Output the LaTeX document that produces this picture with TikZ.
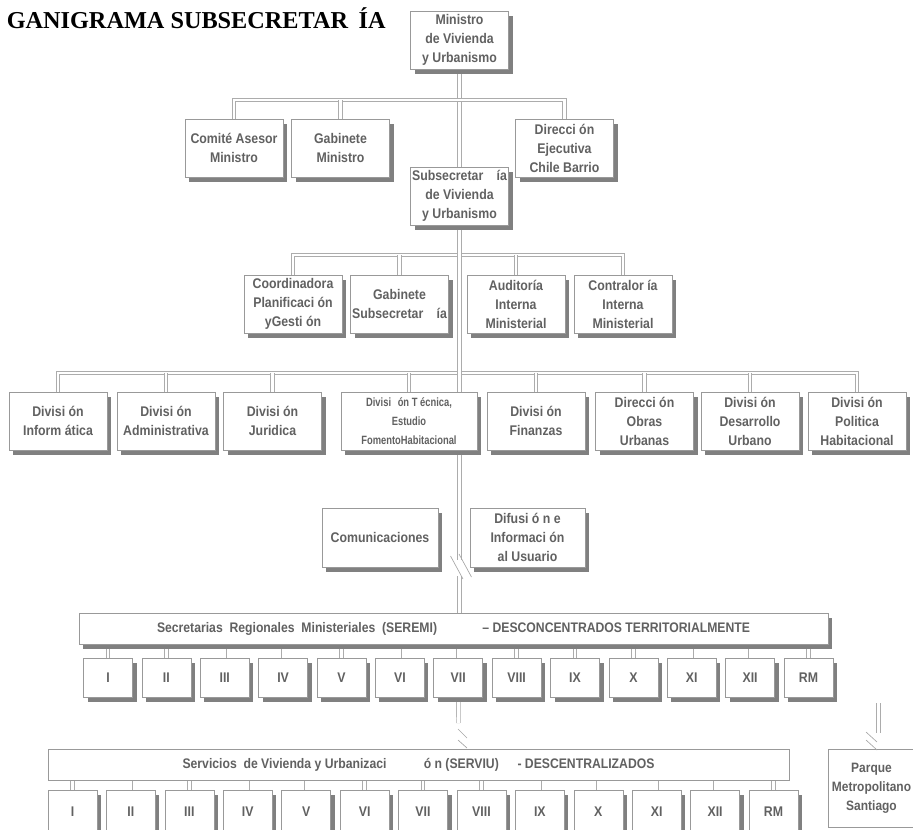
\documentclass[tikz,border=0pt]{standalone}
\usepackage{fontspec}
\setmainfont{Liberation Sans}[FakeStretch=0.88]
\newfontfamily\titlefont{Liberation Serif}
\newfontfamily\narrowfont{Liberation Sans}[FakeStretch=0.78]
\usetikzlibrary{shadows,backgrounds}

\newcommand{\boxfont}{\bfseries\fontsize{10.5}{14.25}\selectfont}
\newcommand{\smallboxfont}{\narrowfont\bfseries\fontsize{9}{14.25}\selectfont}

\tikzset{
	orgbox/.style={draw=gray!80, fill=white, text=black!62, font=\boxfont, align=center,
		inner sep=1pt, minimum width=73.5pt, minimum height=43.5pt},
	shade/.style={drop shadow={shadow xshift=3pt, shadow yshift=-3.5pt, fill=black!50, opacity=1}},
	regbox/.style={orgbox, minimum width=36.75pt, minimum height=29.25pt},
	bar/.style={orgbox, font=\bfseries\fontsize{10.4}{12}\selectfont, minimum height=23.25pt},
	link/.style={draw=gray!65, double=white, double distance=2.2pt, line width=0.55pt},
	slash/.style={draw=gray!70, line width=0.5pt},
}

\begin{document}
\begin{tikzpicture}[x=0.75pt,y=-0.75pt]

	\useasboundingbox (0,0) rectangle (913,829);

	% Title.
	\node[anchor=base east, inner sep=0pt, font=\titlefont\bfseries\fontsize{18.2}{20}\selectfont] (title) at (386,28) {GANIGRAMA SUBSECRETAR\hspace{8pt}ÍA};

	% Node definitions.
	\node[orgbox,shade] (mvu) at (459.5,40) {Ministro\\de Vivienda\\y Urbanismo};
	\node[orgbox,shade] (casesor) at (234,148) {Comité Asesor\\Ministro};
	\node[orgbox,shade] (gabmin) at (340.5,148) {Gabinete\\Ministro};
	\node[orgbox,shade] (dechile) at (564.5,148.5) {Direcci ón\\Ejecutiva\\Chile Barrio};
	\node[orgbox,shade] (subse) at (459.5,196) {Subsecretar\hspace{10pt}ía\\de Vivienda\\y Urbanismo};

	\node[orgbox,shade] (coord) at (293,304) {Coordinadora\\Planificaci ón\\yGesti ón};
	\node[orgbox,shade] (gabsub) at (399.5,304) {Gabinete\\Subsecretar\hspace{10pt}ía};
	\node[orgbox,shade] (audit) at (516,304) {Auditoría\\Interna\\Ministerial};
	\node[orgbox,shade] (contra) at (623,304) {Contralor ía\\Interna\\Ministerial};

	\node[orgbox,shade] (dinf) at (58,421) {Divisi ón\\Inform ática};
	\node[orgbox,shade] (dadm) at (166,421) {Divisi ón\\Administrativa};
	\node[orgbox,shade] (djur) at (272.5,421) {Divisi ón\\Juridica};
	\node[orgbox,shade,minimum width=102pt,font=\smallboxfont] (dtec) at (409,421) {Divisi\hspace{5pt}ón T écnica,\\Estudio\\FomentoHabitacional};
	\node[orgbox,shade] (dfin) at (536,421) {Divisi ón\\Finanzas};
	\node[orgbox,shade] (dobras) at (644.5,421) {Direcci ón\\Obras\\Urbanas};
	\node[orgbox,shade] (ddes) at (750,421) {Divisi ón\\Desarrollo\\Urbano};
	\node[orgbox,shade] (dpol) at (857,421) {Divisi ón\\Politica\\Habitacional};

	\node[orgbox,shade,minimum width=87pt,minimum height=44.25pt] (comun) at (380,537.5) {Comunicaciones};
	\node[orgbox,shade,minimum width=86.25pt,minimum height=44.25pt] (difus) at (527.5,537.5) {Difusi ó n e\\Informaci ón\\al Usuario};

	\node[bar,shade,minimum width=561.75pt] (seremi) at (453.5,628.5)
		{Secretarias\ \ Regionales\ \ Ministeriales\ \ (SEREMI)\hspace{34pt}-- DESCONCENTRADOS TERRITORIALMENTE};
	\node[bar,minimum width=555.75pt] (serviu) at (418.5,764.5)
		{Servicios\ \ de Vivienda y Urbanizaci\hspace{28pt}ó n (SERVIU)\hspace{14pt}- DESCENTRALIZADOS};

	\foreach \r [count=\i] in {I,II,III,IV,V,VI,VII,VIII,IX,X,XI,XII,RM} {
		\node[regbox,shade] (s\i) at ({108+(\i-1)*58.375},677.5) {\r};
		\node[regbox,shade,minimum height=33pt] (v\i) at ({72.5+(\i-1)*58.42},812) {\r};
	}

	\node[orgbox,minimum width=65pt,minimum height=58.5pt,font=\bfseries\fontsize{10.2}{14.25}\selectfont] (parque) at (871.5,788) {Parque\\Metropolitano\\Santiago};
	\draw[gray!80] (parque.north east) -- ++(12,0) (parque.south east) -- ++(12,0);

	% Break points.
	\coordinate (bus1) at (459.5,100);
	\coordinate (bus2) at (459.5,255);
	\coordinate (bus3) at (459.5,373);
	\coordinate (cut1a) at (459.5,560);
	\coordinate (cut1b) at (459.5,576);
	\coordinate (cut2a) at (458.5,723);
	\coordinate (cut3a) at (878.5,703);
	\coordinate (cut3b) at (878.5,733);

	% Connectors.
	\begin{pgfonlayer}{background}
		\draw[link] (mvu) -- (subse);
		\draw[link] (casesor.north) |- (bus1) -| (dechile.north);
		\draw[link] (gabmin.north) -- (gabmin.north |- bus1);

		\draw[link] (coord.north) |- (bus2) -| (contra.north);
		\foreach \n in {gabsub,audit}
			\draw[link] (\n.north) -- (\n.north |- bus2);

		\draw[link] (dinf.north) |- (bus3) -| (dpol.north);
		\foreach \n in {dadm,djur,dtec,dfin,dobras,ddes}
			\draw[link] (\n.north) -- (\n.north |- bus3);

		\draw[link] (subse.south) -- (cut1a);
		\draw[link] (cut1b) -- (seremi.north -| cut1b);
		\draw[link] (s7.south) -- (cut2a);
		\draw[link] (cut3a) -- (cut3b);

		\foreach \i in {1,...,13} {
			\draw[link] (s\i.north) -- (s\i.north |- seremi.south);
			\draw[link] (v\i.north) -- (v\i.north |- serviu.south);
		}
	\end{pgfonlayer}

	% Breaks.
	\draw[slash] ([shift={(-9,-4)}]cut1a) -- ++(12.5,23);
	\draw[slash] ([shift={(-0.5,-6)}]cut1a) -- ++(12.5,23);
	\draw[slash] ([shift={(-0.5,6)}]cut2a) -- ++(9,9);
	\draw[slash] ([shift={(-0.5,17)}]cut2a) -- ++(9,8);
	\draw[slash] ([shift={(-12.5,-1)}]cut3b) -- ++(11,10);
	\draw[slash] ([shift={(-12.5,7)}]cut3b) -- ++(11,10);

\end{tikzpicture}
\end{document}
